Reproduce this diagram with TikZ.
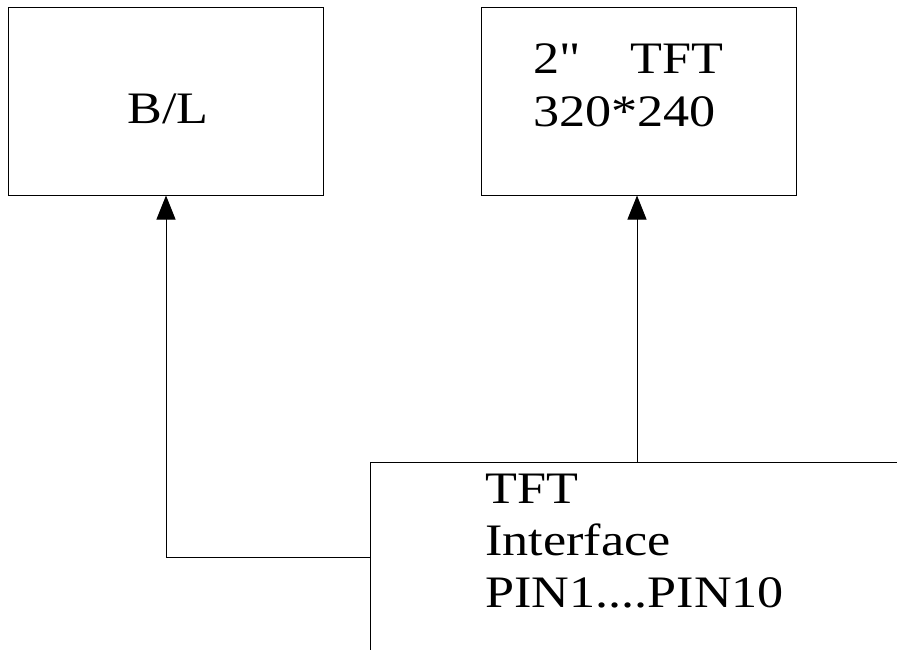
\documentclass[tikz,border=0pt]{standalone}
\usepackage{fontspec}
\setmainfont{Liberation Serif}
\newfontfamily\wideserif[FakeStretch=1.16]{Liberation Serif}
\usetikzlibrary{arrows.meta}
\begin{document}
\begin{tikzpicture}[x=1pt,y=-1pt,
  blk/.style={draw, line width=1pt, inner sep=0pt},
  lbl/.style={font=\wideserif\fontsize{45}{52}\selectfont, inner sep=0pt, anchor=base west, align=left},
  conn/.style={line width=1pt, -{Triangle[width=19pt,length=24pt]}}]
\useasboundingbox (0,0) rectangle (897,650);
% boxes
\node[blk, minimum width=315pt, minimum height=187pt] (bl) at (165.5,101.5) {};
\node[blk, minimum width=315pt, minimum height=187pt] (tft) at (638.5,101.5) {};
\coordinate (ifTL) at (370,462);
\draw[line width=1pt] (897,462) -- (ifTL) -- (370,650);
% texts
\node[lbl] (bltext) at (127,124) {B/L};
\node[lbl] (tfttext1) at (533,74) {2{\char34}};
\node[lbl] (tfttext2) at (630,74) {TFT};
\node[lbl] (tfttext3) at (533,127) {320*240};
\node[lbl] (iftext) at (485,607) {TFT\\Interface\\PIN1....PIN10};
% connectors
\coordinate (ifL) at (370,557);
\coordinate (ifT) at (637,462);
\draw[conn] (ifL) -- (166,557) -- (bl.south -| 166,0);
\draw[conn] (ifT) -- (tft.south -| 637,0);
\end{tikzpicture}
\end{document}
